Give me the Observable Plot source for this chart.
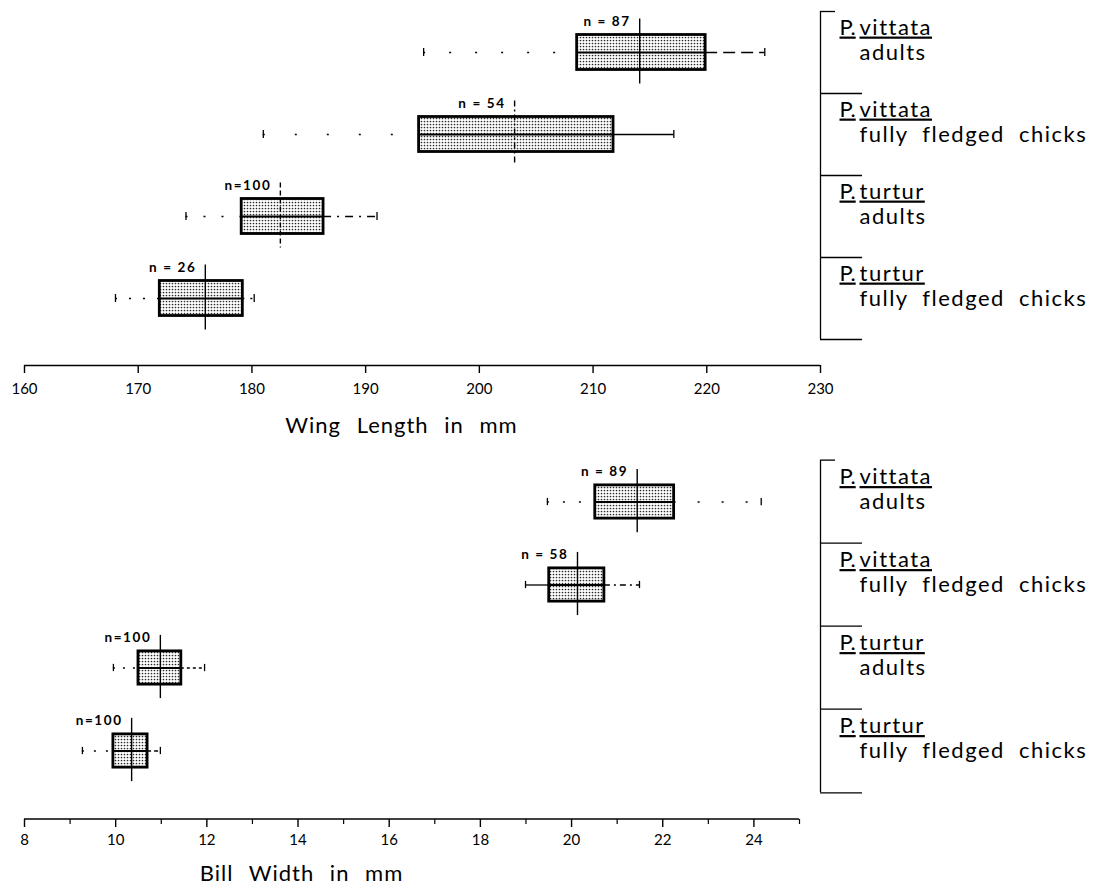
<!DOCTYPE html>
<html><head><meta charset="utf-8">
<script src="https://cdn.jsdelivr.net/npm/d3@7"></script>
<script src="https://cdn.jsdelivr.net/npm/@observablehq/plot@0.6"></script>
<style>
body{margin:0;background:#fff;font-family:Lato, sans-serif;}
#wrap{position:relative;width:1095px;height:888px;overflow:hidden;}
#wrap > svg{position:absolute;}
</style></head><body>
<svg width="0" height="0" style="position:absolute"><defs>
<pattern id="stipple" width="3" height="3" patternUnits="userSpaceOnUse">
<rect width="3" height="3" fill="#fff"/><circle cx="1.5" cy="1.5" r="0.85" fill="#2a2a2a"/>
</pattern></defs></svg>
<div id="wrap"></div>
<script>
// ---- data ----
const categories = ["P. vittata adults", "P. vittata fully fledged chicks", "P. turtur adults", "P. turtur fully fledged chicks"];
const genus = ["P.", "P.", "P.", "P."];
const species = ["vittata", "vittata", "turtur", "turtur"];
const stage = ["adults", "fully fledged chicks", "adults", "fully fledged chicks"];

const wingN = [87, 54, 100, 26];
const wingMin = [195.1, 181.0, 174.2, 168.0];
const wingLo = [208.6, 194.7, 179.1, 171.9];
const wingMean = [214.1, 203.1, 182.5, 175.9];
const wingHi = [219.9, 211.8, 186.3, 179.2];
const wingMax = [225.1, 217.1, 191.0, 180.2];
const wingTicks = [160, 170, 180, 190, 200, 210, 220, 230];
const wingTitle = "Wing Length in mm";

const billN = [89, 58, 100, 100];
const billMin = [19.47, 18.99, 9.95, 9.27];
const billLo = [20.52, 19.51, 10.50, 9.95];
const billMean = [21.44, 20.13, 10.98, 10.35];
const billHi = [22.25, 20.72, 11.44, 10.70];
const billMax = [24.16, 21.49, 11.95, 10.98];
const billTicks = [8, 10, 12, 14, 16, 18, 20, 22, 24];
const billMinorTicks = [9, 11, 13, 15, 17, 19, 21, 23, 25];
const billTitle = "Bill Width in mm";

// ---- line styles (not data) ----
const wingDash = {left: ["2,24", "2,30", "2,16", "2,12"], right: ["12,6", "none", "8,6,2,6", "2,6"], mean: ["none", "6,3,2,3", "5,3", "none"]};
const billDash = {left: ["2,14", "none", "2,8", "2,10"], right: ["2,22", "6,4,2,4", "3,3", "4,3"], mean: ["none", "none", "none", "none"]};

function buildRows(n, mn, lo, mean, hi, mx) {
  return categories.map((cat, i) => ({cat, genus: genus[i], species: species[i], stage: stage[i], n: n[i], min: mn[i], lo: lo[i], mean: mean[i], hi: hi[i], max: mx[i]}));
}
const fmtN = (n) => n >= 100 ? `n=${n}` : `n = ${n}`;

function chart({rows, domain, range, ticks, minor, height, frameBottom, yRange, boxH, dash, title, titleDx, titleDy, tickPadding}) {
  const bw = (yRange[1] - yRange[0]) / categories.length;
  const inset = (bw - boxH) / 2;
  const lastCat = categories.slice(-1);
  const axisDy = frameBottom - yRange[1] + bw / 2;
  const whiskers = [];
  rows.forEach((r, i) => {
    whiskers.push(Plot.ruleY([r], {y: "cat", x1: "min", x2: "lo", strokeWidth: 1.3, strokeDasharray: dash.left[i]}));
    whiskers.push(Plot.ruleY([r], {y: "cat", x1: "hi", x2: "max", strokeWidth: 1.3, strokeDasharray: dash.right[i]}));
  });
  const means = rows.map((r, i) => Plot.tickX([r], {x: "mean", y: "cat", strokeWidth: 1.4, strokeDasharray: dash.mean[i], insetTop: bw / 2 - boxH / 2 - 16, insetBottom: bw / 2 - boxH / 2 - 14}));
  const main = Plot.plot({
    width: 1095, height,
    marginLeft: range[0], marginRight: 1095 - range[1], marginTop: 0, marginBottom: height - frameBottom,
    x: {domain, range},
    y: {type: "band", domain: categories, range: yRange, padding: 0, axis: null},
    style: {fontFamily: "Lato, sans-serif", color: "black", background: "white", overflow: "visible"},
    marks: [
      Plot.ruleY(lastCat, {y: (d) => d, x1: () => domain[0], x2: () => domain[1], dy: axisDy, strokeWidth: 1.5}),
      Plot.axisX({ticks, tickSize: 8, tickPadding, fontSize: 15, label: null, strokeWidth: 1.4}),
      minor ? Plot.axisX({ticks: minor, tickSize: 5, tickFormat: () => "", label: null, strokeWidth: 1.2}) : null,
      ...whiskers,
      Plot.barX(rows, {x1: "lo", x2: "hi", y: "cat", fill: "url(#stipple)", stroke: "black", strokeWidth: 2.8, insetTop: inset, insetBottom: inset}),
      Plot.ruleY(rows, {y: "cat", x1: "lo", x2: "hi", strokeWidth: 1.8}),
      ...means,
      Plot.tickX(rows, {x: "min", y: "cat", insetTop: bw / 2 - 4, insetBottom: bw / 2 - 4, strokeWidth: 1.3}),
      Plot.tickX(rows, {x: "max", y: "cat", insetTop: bw / 2 - 4, insetBottom: bw / 2 - 4, strokeWidth: 1.3}),
      Plot.text(rows, {x: "mean", y: "cat", text: (d) => fmtN(d.n), dx: -9, dy: -boxH / 2 - 13, textAnchor: "end", fontWeight: "bold", fontSize: 13.5}),
      Plot.text([title], {text: (d) => d, frameAnchor: "bottom-left", dx: titleDx, dy: titleDy, fontSize: 22, textAnchor: "middle"})
    ]
  });
  const tl = 42 / 275;
  const panel = Plot.plot({
    width: 275, height, marginLeft: 0, marginRight: 0, marginTop: 0, marginBottom: height - frameBottom,
    x: {domain: [0, 1], range: [0, 275], axis: null},
    y: {type: "band", domain: categories, range: yRange, padding: 0, axis: null},
    style: {fontFamily: "Lato, sans-serif", color: "black", background: "transparent", overflow: "visible"},
    marks: [
      Plot.tickX(categories, {x: () => 0, y: (d) => d, strokeWidth: 1.3}),
      Plot.ruleY(categories.slice(0, 1), {y: (d) => d, x1: () => 0, x2: () => 15 / 275, dy: -bw / 2, strokeWidth: 1.3}),
      Plot.ruleY(categories.slice(1), {y: (d) => d, x1: () => 0, x2: () => tl, dy: -bw / 2, strokeWidth: 1.3}),
      Plot.ruleY(lastCat, {y: (d) => d, x1: () => 0, x2: () => tl, dy: bw / 2, strokeWidth: 1.3}),
      Plot.text(rows, {y: "cat", text: "genus", frameAnchor: "left", dx: 19, dy: -25, textAnchor: "start", fontSize: 22}),
      Plot.text(rows, {y: "cat", text: "species", frameAnchor: "left", dx: 39, dy: -25, textAnchor: "start", fontSize: 22}),
      Plot.text(rows, {y: "cat", text: "stage", frameAnchor: "left", dx: 39, dy: 0, textAnchor: "start", fontSize: 22})
    ]
  });
  // text finishing
  d3.select(main).selectAll("text").filter(function () { return this.textContent === title; })
    .style("letter-spacing", "1px").style("word-spacing", "9px");
  d3.select(main).selectAll("text").filter(function () { return this.textContent.startsWith("n"); })
    .style("letter-spacing", "1.6px");
  d3.select(panel).selectAll("text").style("letter-spacing", "1.5px").style("word-spacing", "7px");
  d3.select(panel).selectAll("text").filter(function () { return genus.includes(this.textContent); })
    .style("letter-spacing", "0px");
  d3.select(panel).selectAll("text").filter(function () { return genus.includes(this.textContent) || species.includes(this.textContent); })
    .style("text-decoration", "underline");
  return {main, panel};
}

const wrap = document.getElementById("wrap");
const wingChart = chart({
  rows: buildRows(wingN, wingMin, wingLo, wingMean, wingHi, wingMax),
  domain: [160, 230], range: [24, 820], ticks: wingTicks, minor: null,
  height: 450, frameBottom: 365, yRange: [11, 339], boxH: 35, dash: wingDash,
  title: wingTitle, titleDx: 377, titleDy: 67, tickPadding: 10
});
const billChart = chart({
  rows: buildRows(billN, billMin, billLo, billMean, billHi, billMax),
  domain: [8, 25], range: [24, 799], ticks: billTicks, minor: billMinorTicks,
  height: 438, frameBottom: 369, yRange: [8, 343], boxH: 34, dash: billDash,
  title: billTitle, titleDx: 277, titleDy: 61, tickPadding: 7
});
function place(svg, left, topPx) { svg.style.left = left + "px"; svg.style.top = topPx + "px"; wrap.appendChild(svg); }
place(wingChart.main, 0, 0); place(wingChart.panel, 820, 0);
place(billChart.main, 0, 450); place(billChart.panel, 820, 450);
</script></body></html>
